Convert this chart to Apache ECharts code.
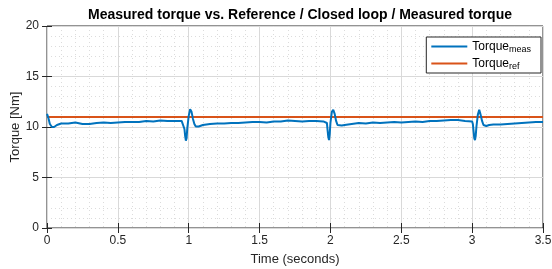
<!DOCTYPE html>
<html>
<head>
<meta charset="utf-8">
<script src="https://cdn.jsdelivr.net/npm/echarts@6/dist/echarts.min.js"></script>
<style>
  html, body { margin: 0; padding: 0; background: #fff; }
  #chart { width: 552px; height: 269px; }
</style>
</head>
<body>
<div id="chart"></div>
<script>
// time stamps (s) and measured torque (Nm)
const timeMeas = [
  0, 0.01, 0.02, 0.035, 0.05, 0.07, 0.1, 0.15, 0.2, 0.25, 0.3, 0.35, 0.4, 0.45, 0.5,
  0.55, 0.6, 0.65, 0.7, 0.75, 0.8, 0.85, 0.9, 0.95, 0.96, 0.97, 0.975, 0.98, 0.985, 0.99,
  1.0, 1.01, 1.02, 1.03, 1.04, 1.05, 1.07, 1.1, 1.15, 1.2, 1.25, 1.3, 1.35, 1.4, 1.45,
  1.5, 1.55, 1.6, 1.65, 1.7, 1.75, 1.8, 1.85, 1.9, 1.95, 1.975, 1.98, 1.985, 1.99, 1.995,
  2.0, 2.01, 2.02, 2.03, 2.04, 2.05, 2.06, 2.08, 2.1, 2.15, 2.2, 2.25, 2.3, 2.35, 2.4,
  2.45, 2.5, 2.55, 2.6, 2.65, 2.7, 2.75, 2.8, 2.85, 2.9, 2.95, 3.0, 3.005, 3.01, 3.015,
  3.02, 3.025, 3.03, 3.04, 3.05, 3.055, 3.06, 3.07, 3.08, 3.09, 3.1, 3.12, 3.15, 3.2,
  3.25, 3.3, 3.35, 3.4, 3.45, 3.5
];
const torqueMeas = [
  11.3, 10.9, 10.3, 10.0, 10.0, 10.2, 10.35, 10.35, 10.45, 10.3, 10.3, 10.4, 10.45, 10.4, 10.45,
  10.5, 10.5, 10.5, 10.6, 10.55, 10.65, 10.6, 10.6, 10.6, 10.5, 9.8, 9.1, 8.65, 8.9, 9.9,
  11.1, 11.75, 11.5, 10.8, 10.3, 10.05, 10.05, 10.2, 10.3, 10.35, 10.35, 10.4, 10.4, 10.45, 10.5,
  10.5, 10.45, 10.55, 10.55, 10.65, 10.6, 10.55, 10.6, 10.6, 10.55, 10.4, 9.7, 9.0, 8.7, 9.3,
  10.4, 11.5, 11.7, 11.3, 10.6, 10.2, 10.05, 10.15, 10.2, 10.3, 10.4, 10.35, 10.45, 10.4, 10.45,
  10.5, 10.45, 10.5, 10.55, 10.5, 10.6, 10.6, 10.65, 10.7, 10.7, 10.6, 10.55, 10.3, 9.6, 8.9,
  8.7, 9.1, 10.0, 11.2, 11.7, 11.6, 11.2, 10.6, 10.2, 10.05, 10.1, 10.2, 10.25, 10.25,
  10.3, 10.35, 10.4, 10.45, 10.5, 10.5
];
const timeRef = [0, 3.5];
const torqueRef = [11, 11];

const xTicks = [0, 0.5, 1, 1.5, 2, 2.5, 3, 3.5];
const yTicks = [0, 5, 10, 15, 20];

const pair = (xs, ys) => xs.map((x, i) => [x, ys[i]]);

const font = 'Liberation Sans, Arial, Helvetica, sans-serif';
const ink = '#262626';

const chart = echarts.init(document.getElementById('chart'));
const xBase = {
  type: 'value', min: 0, max: 3.5, interval: 0.5,
  axisLine: { show: false },
  axisTick: { inside: true, length: 5, lineStyle: { color: ink } },
  minorTick: { show: false, splitNumber: 5 },
  minorSplitLine: { show: true, lineStyle: { color: '#dcdcdc', type: [1, 3], width: 1 } },
  splitLine: { show: true, lineStyle: { color: '#d9d9d9', width: 1 } }
};
const yBase = {
  type: 'value', min: 0, max: 20, interval: 5,
  axisLine: { show: false },
  axisTick: { inside: true, length: 5, lineStyle: { color: ink } },
  minorTick: { show: false, splitNumber: 5 },
  minorSplitLine: { show: true, lineStyle: { color: '#dcdcdc', type: [1, 3], width: 1 } },
  splitLine: { show: true, lineStyle: { color: '#d9d9d9', width: 1 } }
};

chart.setOption({
  animation: false,
  backgroundColor: '#fff',
  textStyle: { fontFamily: font },
  title: {
    text: 'Measured torque vs. Reference / Closed loop / Measured torque',
    left: 295, top: 3, textAlign: 'center',
    textStyle: { fontFamily: font, fontSize: 14, fontWeight: 'bold', color: '#000' }
  },
  grid: {
    left: 47, right: 9, top: 26, bottom: 41,
    outerBoundsMode: 'none',
    show: true, borderColor: ink, borderWidth: 1, backgroundColor: '#fff'
  },
  legend: {
    right: 11, top: 37, orient: 'vertical',
    itemWidth: 36, itemHeight: 2, itemGap: 2,
    padding: [2, 10, 2, 5],
    backgroundColor: '#fff', borderColor: ink, borderWidth: 1, borderRadius: 0,
    icon: 'rect',
    formatter: name => name === 'meas' ? '{a|Torque}{b|meas}' : '{a|Torque}{b|ref}',
    textStyle: {
      rich: {
        a: { fontFamily: font, fontSize: 12, color: '#000', lineHeight: 14 },
        b: { fontFamily: font, fontSize: 9, color: '#000', lineHeight: 8, padding: [6, 0, 0, 0] }
      }
    }
  },
  xAxis: [
    Object.assign({}, xBase, {
      name: 'Time (seconds)', nameLocation: 'middle', nameGap: 25, nameMoveOverlap: false,
      nameTextStyle: { fontFamily: font, fontSize: 13, color: ink },
      axisLabel: {
        fontFamily: font, fontSize: 12, color: ink, margin: 7,
        formatter: v => xTicks.includes(v) ? String(v) : ''
      }
    }),
    Object.assign({}, xBase, {
      position: 'top', axisLabel: { show: false },
      splitLine: { show: false }, minorSplitLine: { show: false }
    })
  ],
  yAxis: [
    Object.assign({}, yBase, {
      name: 'Torque [Nm]', nameLocation: 'middle', nameGap: 25, nameMoveOverlap: false,
      nameTextStyle: { fontFamily: font, fontSize: 13, color: ink },
      axisLabel: {
        fontFamily: font, fontSize: 12, color: ink, margin: 8,
        formatter: v => yTicks.includes(v) ? String(v) : ''
      }
    }),
    Object.assign({}, yBase, {
      position: 'right', axisLabel: { show: false },
      splitLine: { show: false }, minorSplitLine: { show: false }
    })
  ],
  series: [
    {
      name: 'meas', type: 'line', xAxisIndex: 0, yAxisIndex: 0,
      data: pair(timeMeas, torqueMeas), showSymbol: false, symbol: 'none',
      lineStyle: { color: '#0072BD', width: 2 }, itemStyle: { color: '#0072BD' },
      z: 3
    },
    {
      name: 'ref', type: 'line', xAxisIndex: 0, yAxisIndex: 0,
      data: pair(timeRef, torqueRef), showSymbol: false, symbol: 'none',
      lineStyle: { color: '#D95319', width: 2 }, itemStyle: { color: '#D95319' },
      z: 2
    }
  ]
});
</script>
</body>
</html>
